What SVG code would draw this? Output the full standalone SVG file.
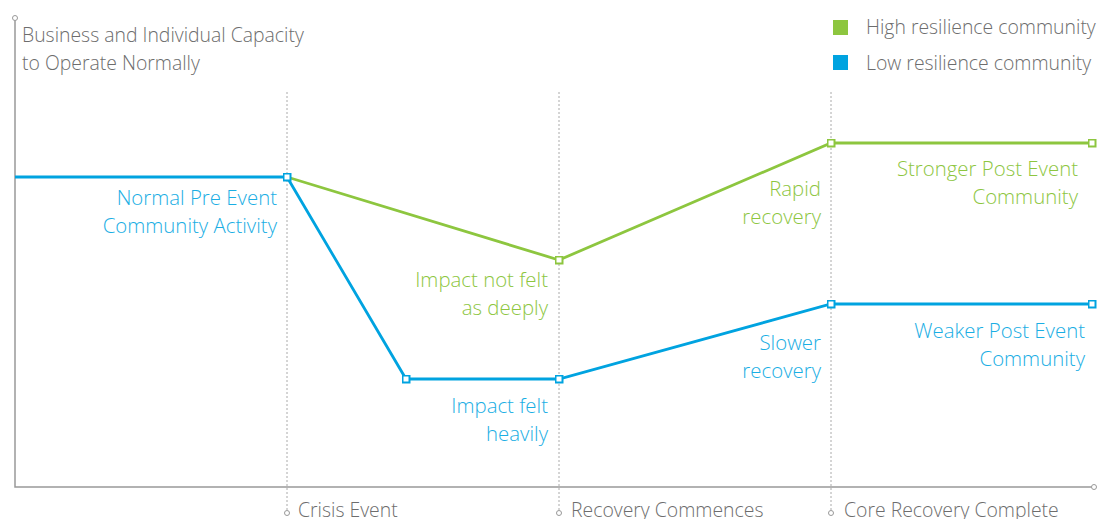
<svg xmlns="http://www.w3.org/2000/svg" width="1098" height="519" viewBox="0 0 1098 519">
<style>
text{font-family:"Open Sans","Liberation Sans",sans-serif;font-weight:300}
.ax{fill:#6d6d6d;font-size:19.4px}
.g{fill:#8dc63f;font-size:20.4px;text-anchor:end}
.b{fill:#1aaee4;font-size:20.4px;text-anchor:end}
.axis{stroke:#999;stroke-width:1.5;fill:none}
.dot{stroke:#aaa;stroke-width:1;stroke-dasharray:2 2;fill:none}
.ring{fill:#fff;stroke:#999;stroke-width:1}
.lg{stroke:#8dc63f;stroke-width:2.8;fill:none}
.lb{stroke:#00a3e0;stroke-width:2.8;fill:none}
</style>
<defs>
<marker id="mg" viewBox="0 0 9 9" refX="4.5" refY="4.5" markerWidth="9" markerHeight="9" markerUnits="userSpaceOnUse"><rect x="1" y="1" width="7" height="7" fill="#fff" stroke="#8dc63f" stroke-width="2"/></marker>
<marker id="mb" viewBox="0 0 9 9" refX="4.5" refY="4.5" markerWidth="9" markerHeight="9" markerUnits="userSpaceOnUse"><rect x="1" y="1" width="7" height="7" fill="#fff" stroke="#00a3e0" stroke-width="2"/></marker>
</defs>
<g id="axes">
<path class="axis" d="M15,20 V487 H1092"/>
<circle class="ring" cx="15" cy="18" r="2.5"/>
<circle class="ring" cx="1094" cy="487" r="2.5"/>
<path class="dot" d="M287,92 V510 M559,92 V510 M831,92 V510"/>
<circle class="ring" cx="287" cy="513" r="2.5"/>
<circle class="ring" cx="559" cy="513" r="2.5"/>
<circle class="ring" cx="831" cy="513" r="2.5"/>
<text class="ax" x="22" y="42">Business and Individual Capacity</text>
<text class="ax" x="22" y="70">to Operate Normally</text>
<text class="ax" x="298" y="517">Crisis Event</text>
<text class="ax" x="571" y="517">Recovery Commences</text>
<text class="ax" x="844" y="517">Core Recovery Complete</text>
</g>
<g id="legend">
<rect x="833" y="20" width="15" height="15" fill="#8dc63f"/>
<text class="ax" x="866" y="34">High resilience community</text>
<rect x="833" y="55" width="15" height="15" fill="#00a3e0"/>
<text class="ax" x="866" y="70">Low resilience community</text>
</g>
<g id="connectors">
<polyline id="high" class="lg" points="287,177 559,260 831,143 1092,143" marker-mid="url(#mg)" marker-end="url(#mg)"/>
<polyline id="low" class="lb" points="15,177 287,177 406,379 559,379 831,304 1092,304" marker-mid="url(#mb)" marker-end="url(#mb)"/>
</g>
<g id="labels">
<g id="normal"><text class="b" x="277" y="205">Normal Pre Event</text><text class="b" x="277" y="233">Community Activity</text></g>
<g id="notdeep"><text class="g" x="548" y="287">Impact not felt</text><text class="g" x="548" y="315">as deeply</text></g>
<g id="rapid"><text class="g" x="821" y="196">Rapid</text><text class="g" x="821" y="224">recovery</text></g>
<g id="stronger"><text class="g" x="1078" y="176">Stronger Post Event</text><text class="g" x="1078" y="204">Community</text></g>
<g id="slower"><text class="b" x="821" y="350">Slower</text><text class="b" x="821" y="378">recovery</text></g>
<g id="weaker"><text class="b" x="1085" y="338">Weaker Post Event</text><text class="b" x="1085" y="366">Community</text></g>
<g id="heavily"><text class="b" x="548" y="413">Impact felt</text><text class="b" x="548" y="441">heavily</text></g>
</g>
</svg>
